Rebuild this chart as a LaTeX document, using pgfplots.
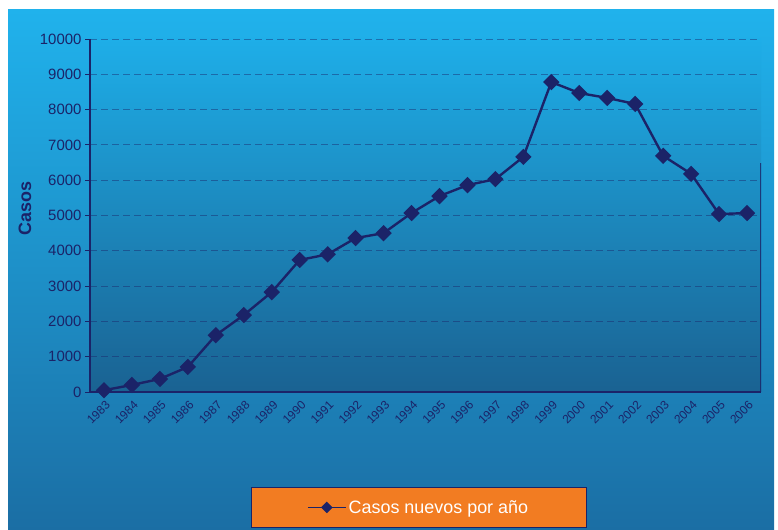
\documentclass[border=0pt]{standalone}
\usepackage{pgfplots}
\pgfplotsset{compat=1.18}
\usepackage{fontspec}
\setmainfont{Liberation Sans}

\definecolor{navy}{HTML}{1B2368}
\definecolor{bgtop}{HTML}{20B2EC}
\definecolor{bgbot}{HTML}{1B6EA4}
\definecolor{pltop}{HTML}{1EAEE8}
\definecolor{plmid}{HTML}{1A94CC}
\definecolor{plbot}{HTML}{1A6292}
\definecolor{legorange}{HTML}{F27C22}

\pgfplotstableread{
idx year casos
0  1983 50
1  1984 200
2  1985 370
3  1986 710
4  1987 1610
5  1988 2180
6  1989 2830
7  1990 3740
8  1991 3900
9  1992 4360
10 1993 4500
11 1994 5070
12 1995 5550
13 1996 5860
14 1997 6030
15 1998 6660
16 1999 8780
17 2000 8470
18 2001 8330
19 2002 8160
20 2003 6690
21 2004 6180
22 2005 5040
23 2006 5070
}\casostable

\begin{document}
\begin{tikzpicture}
% page background and chart area
\fill[white] (0,0) rectangle (778bp,530bp);
\shade[top color=bgtop, bottom color=bgbot] (8bp,0) rectangle (774bp,520bp);
\begin{axis}[
  at={(90bp,138bp)}, anchor=south west,
  scale only axis, width=671bp, height=353bp,
  xmin=-0.5, xmax=23.5, ymin=0, ymax=10000,
  axis background/.style={shade, top color=pltop, middle color=plmid, bottom color=plbot},
  axis x line*=bottom, axis y line*=left,
  axis line style={navy, line width=1.2bp},
  xtick={0,...,23},
  xticklabels={1983,1984,1985,1986,1987,1988,1989,1990,1991,1992,1993,1994,1995,1996,1997,1998,1999,2000,2001,2002,2003,2004,2005,2006},
  x tick style={draw=none},
  x tick label style={rotate=45, anchor=east, font=\fontsize{12}{14}\selectfont, text=navy, xshift=2bp, yshift=-7bp},
  ytick={0,1000,...,10000},
  scaled y ticks=false,
  y tick style={navy, line width=0.8bp},
  tick align=outside, major tick length=5bp,
  y tick label style={font=\fontsize{15}{17}\selectfont, text=navy,
    /pgf/number format/1000 sep={}, /pgf/number format/assume math mode=true},
  ymajorgrids,
  major grid style={navy, opacity=0.45, dash pattern=on 7bp off 4bp, line width=0.8bp},
  ylabel={Casos},
  y label style={at={(axis description cs:-0.097,0.52)}, anchor=center,
    font=\fontsize{18}{20}\selectfont\bfseries, text=navy},
  legend style={at={(axis description cs:0.4896,-0.327)}, anchor=center,
    fill=legorange, draw=navy, line width=0.8bp, text=white,
    font=\fontsize{18}{20}\selectfont, inner xsep=56bp, inner ysep=10.5bp},
  legend image code/.code={%
    \draw[mark repeat=2, mark phase=2, #1] plot coordinates {(0bp,0bp) (19bp,0bp) (38bp,0bp)};},
  legend image post style={mark size=3.2bp, line width=1.8bp},
]
\addplot[navy, line width=2.4bp, mark=square*, mark size=4.6bp,
  mark options={rotate=45, fill=navy}] table[x=idx, y=casos] {\casostable};
\addlegendentry{Casos nuevos por año}
\draw[navy, line width=1.2bp, opacity=0.8] (rel axis cs:1,0) -- (rel axis cs:1,0.65);
\end{axis}
\pgfresetboundingbox
\path[use as bounding box] (0,0) rectangle (778bp,530bp);
\end{tikzpicture}
\end{document}
